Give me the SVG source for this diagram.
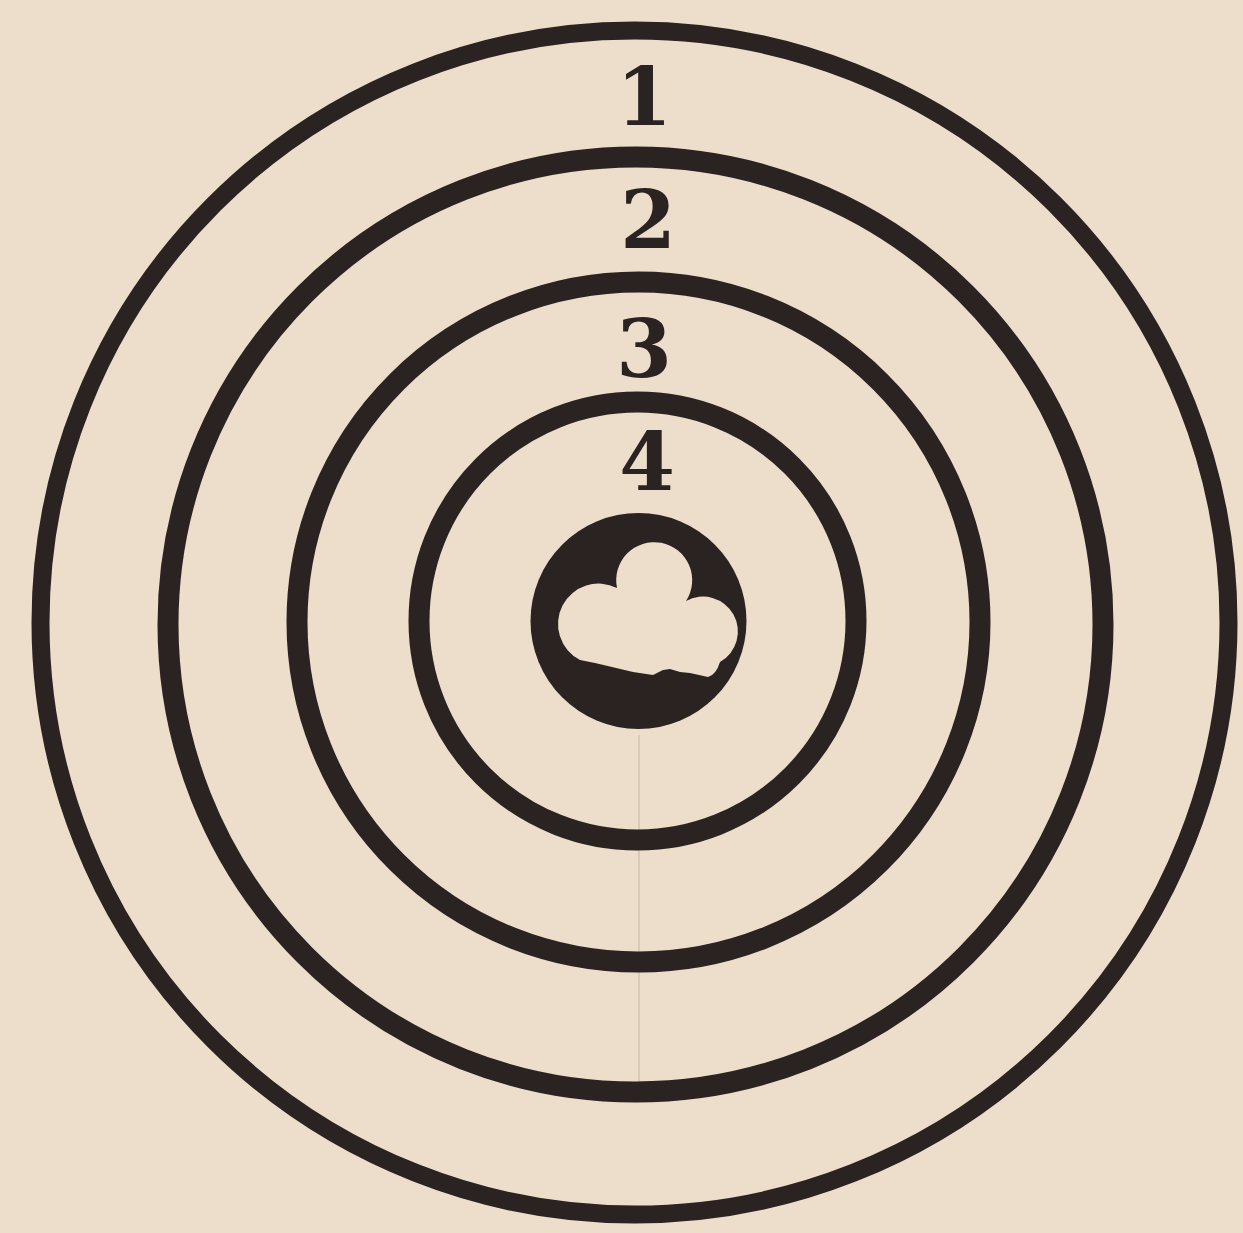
<svg xmlns="http://www.w3.org/2000/svg" width="1243" height="1233" viewBox="0 0 1243 1233">
<style>
.ring{fill:none;stroke:#2b2321;}
.num{font-family:"DejaVu Serif","Liberation Serif",serif;font-weight:bold;font-size:80px;fill:#2b2321;text-anchor:middle;}
</style>
<rect width="1243" height="1233" fill="#ecdecb"/>
<line x1="639" y1="735" x2="639" y2="1090" stroke="#d2c3b1" stroke-width="1.5"/>
<g id="ring1"><ellipse class="ring" cx="634.5" cy="622.5" rx="594" ry="592" stroke-width="18"/></g>
<g id="ring2"><ellipse class="ring" cx="635.5" cy="624.5" rx="467.5" ry="467.5" stroke-width="21"/></g>
<g id="ring3"><ellipse class="ring" cx="638.5" cy="622" rx="341.5" ry="340" stroke-width="21"/></g>
<g id="ring4"><ellipse class="ring" cx="637.5" cy="621" rx="218.5" ry="219" stroke-width="21"/></g>
<g id="bull">
<circle cx="638.5" cy="621" r="108" fill="#2b2321"/>
<path d="M 580 660 A 40 40 0 0 1 617 588 A 38 38 0 1 1 686 601 A 34 34 0 0 1 720 662 Q 716 675 708 677 L 690 673 L 680 672 L 670 669 L 663 670 L 653 675 L 633 672 L 612 667 L 595 663 Z" fill="#ecdecb"/>
</g>
<g id="labels">
<text class="num" x="644" y="125">1</text>
<text class="num" x="648" y="248">2</text>
<text class="num" x="644" y="377">3</text>
<text class="num" x="647" y="490">4</text>
</g>
</svg>
